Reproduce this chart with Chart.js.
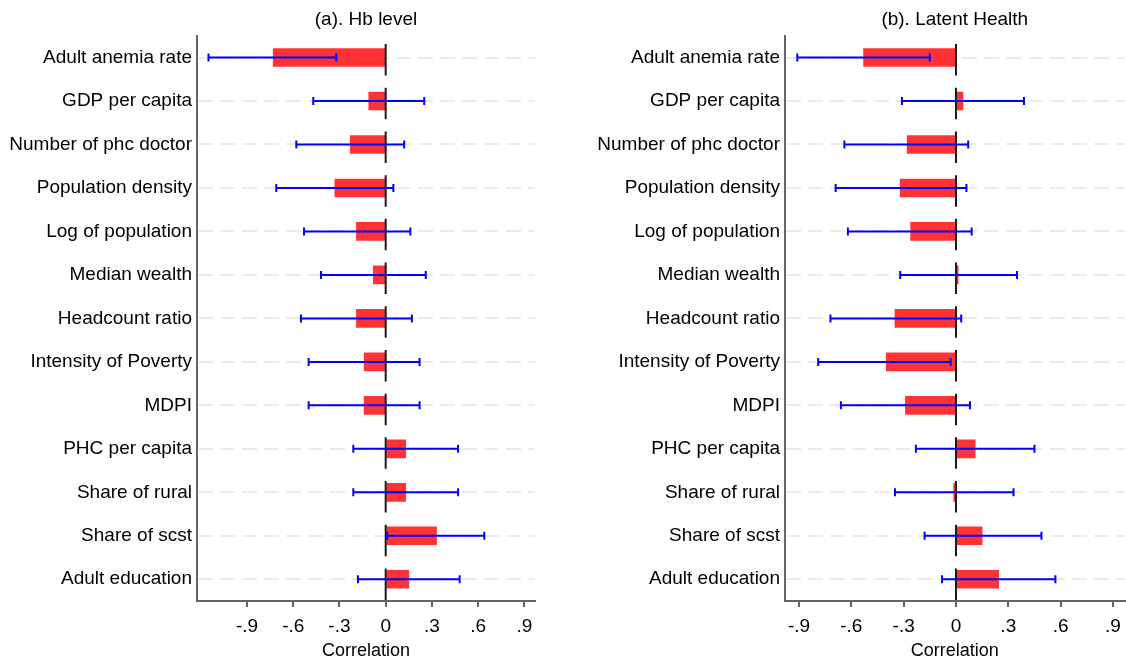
<!DOCTYPE html>
<html>
<head>
<meta charset="utf-8">
<script src="https://cdn.jsdelivr.net/npm/chart.js@4/dist/chart.umd.min.js"></script>
<style>
  html, body { margin: 0; padding: 0; background: #ffffff; }
  body { width: 1126px; height: 662px; position: relative; overflow: hidden; }
  .panel { position: absolute; top: 0; }
</style>
</head>
<body>
<div class="panel" style="left:0px;"><canvas id="c1" width="560" height="662"></canvas></div>
<div class="panel" style="left:560px;"><canvas id="c2" width="569" height="662"></canvas></div>
<script>
const categories = ['Adult anemia rate', 'GDP per capita', 'Number of phc doctor', 'Population density',
  'Log of population', 'Median wealth', 'Headcount ratio', 'Intensity of Poverty', 'MDPI',
  'PHC per capita', 'Share of rural', 'Share of scst', 'Adult education'];

const hbCorr = [-0.73, -0.11, -0.23, -0.33, -0.19, -0.08, -0.19, -0.14, -0.14, 0.13, 0.13, 0.33, 0.15];
const hbLow  = [-1.15, -0.47, -0.58, -0.71, -0.53, -0.42, -0.55, -0.50, -0.50, -0.21, -0.21, 0.01, -0.18];
const hbHigh = [-0.32, 0.25, 0.12, 0.05, 0.16, 0.26, 0.17, 0.22, 0.22, 0.47, 0.47, 0.64, 0.48];

const lhCorr = [-0.53, 0.04, -0.28, -0.32, -0.26, 0.013, -0.35, -0.40, -0.29, 0.11, -0.013, 0.15, 0.245];
const lhLow  = [-0.91, -0.31, -0.64, -0.69, -0.62, -0.32, -0.72, -0.79, -0.66, -0.23, -0.35, -0.18, -0.08];
const lhHigh = [-0.15, 0.39, 0.07, 0.06, 0.09, 0.35, 0.03, -0.03, 0.08, 0.45, 0.33, 0.49, 0.57];

const xTickValues = [-0.9, -0.6, -0.3, 0, 0.3, 0.6, 0.9];
const xTickLabels = ['-.9', '-.6', '-.3', '0', '.3', '.6', '.9'];

Chart.defaults.font.family = "'Liberation Sans', Arial, sans-serif";
Chart.defaults.color = '#000000';

const overlayPlugin = {
  id: 'overlay',
  afterDatasetsDraw(chart, args, opts) {
    const ctx = chart.ctx;
    const xs = chart.scales.x, ys = chart.scales.y;
    const area = chart.chartArea;
    // zero reference line
    const x0 = xs.getPixelForValue(0);
    ctx.save();
    ctx.strokeStyle = '#1a1a1a';
    ctx.lineWidth = 2;
    ctx.setLineDash([31.5, 12.2]);
    ctx.beginPath();
    ctx.moveTo(x0, ys.getPixelForValue(0) - 13.5);
    ctx.lineTo(x0, area.bottom);
    ctx.stroke();
    ctx.restore();
    // confidence intervals
    ctx.save();
    ctx.strokeStyle = '#0000ff';
    ctx.lineWidth = 2;
    ctx.setLineDash([]);
    for (let i = 0; i < opts.low.length; i++) {
      const y = ys.getPixelForValue(i);
      const xa = xs.getPixelForValue(opts.low[i]);
      const xb = xs.getPixelForValue(opts.high[i]);
      ctx.beginPath();
      ctx.moveTo(xa, y); ctx.lineTo(xb, y);
      ctx.moveTo(xa, y - 4); ctx.lineTo(xa, y + 4);
      ctx.moveTo(xb, y - 4); ctx.lineTo(xb, y + 4);
      ctx.stroke();
    }
    ctx.restore();
  }
};

function makeChart(id, title, corr, low, high, xmin, xmax, yWidth, padRight) {
  return new Chart(document.getElementById(id), {
    type: 'bar',
    data: {
      labels: categories,
      datasets: [{
        data: corr,
        backgroundColor: '#ff3333',
        borderWidth: 0,
        barThickness: 18
      }]
    },
    options: {
      indexAxis: 'y',
      responsive: false,
      animation: false,
      devicePixelRatio: 1,
      layout: { padding: { left: 0, right: padRight, top: 0, bottom: 0 } },
      plugins: {
        legend: { display: false },
        tooltip: { enabled: false },
        title: {
          display: true,
          text: title,
          fullSize: false,
          color: '#000000',
          font: { size: 19, weight: 'normal' },
          padding: { top: 8, bottom: 5 }
        },
        overlay: { low: low, high: high }
      },
      scales: {
        x: {
          type: 'linear',
          min: xmin,
          max: xmax,
          afterBuildTicks: (scale) => { scale.ticks = xTickValues.map(v => ({ value: v })); },
          afterFit: (scale) => { scale.height = 61; },
          ticks: {
            autoSkip: false,
            maxRotation: 0,
            padding: 8,
            color: '#000000',
            font: { size: 19 },
            callback: (v, i) => xTickLabels[i]
          },
          grid: { drawOnChartArea: false, drawTicks: true, tickLength: 6, color: '#666666', lineWidth: 2 },
          border: { display: true, color: '#666666', width: 2 },
          title: {
            display: true,
            text: 'Correlation',
            color: '#000000',
            font: { size: 18 },
            padding: { top: 0, bottom: 0 }
          }
        },
        y: {
          type: 'category',
          offset: true,
          afterFit: (scale) => { scale.width = yWidth; },
          ticks: { padding: 5, color: '#000000', font: { size: 19 }, autoSkip: false },
          grid: { offset: false, drawTicks: false, color: '#ebebeb', lineWidth: 2 },
          border: { display: true, color: '#666666', width: 2, dash: [15, 7] }
        }
      }
    },
    plugins: [overlayPlugin]
  });
}

makeChart('c1', '(a). Hb level', hbCorr, hbLow, hbHigh, -1.2245, 0.969, 197, 25);
makeChart('c2', '(b). Latent Health', lhCorr, lhLow, lhHigh, -0.9805, 0.9667, 225, 0);
</script>
</body>
</html>
